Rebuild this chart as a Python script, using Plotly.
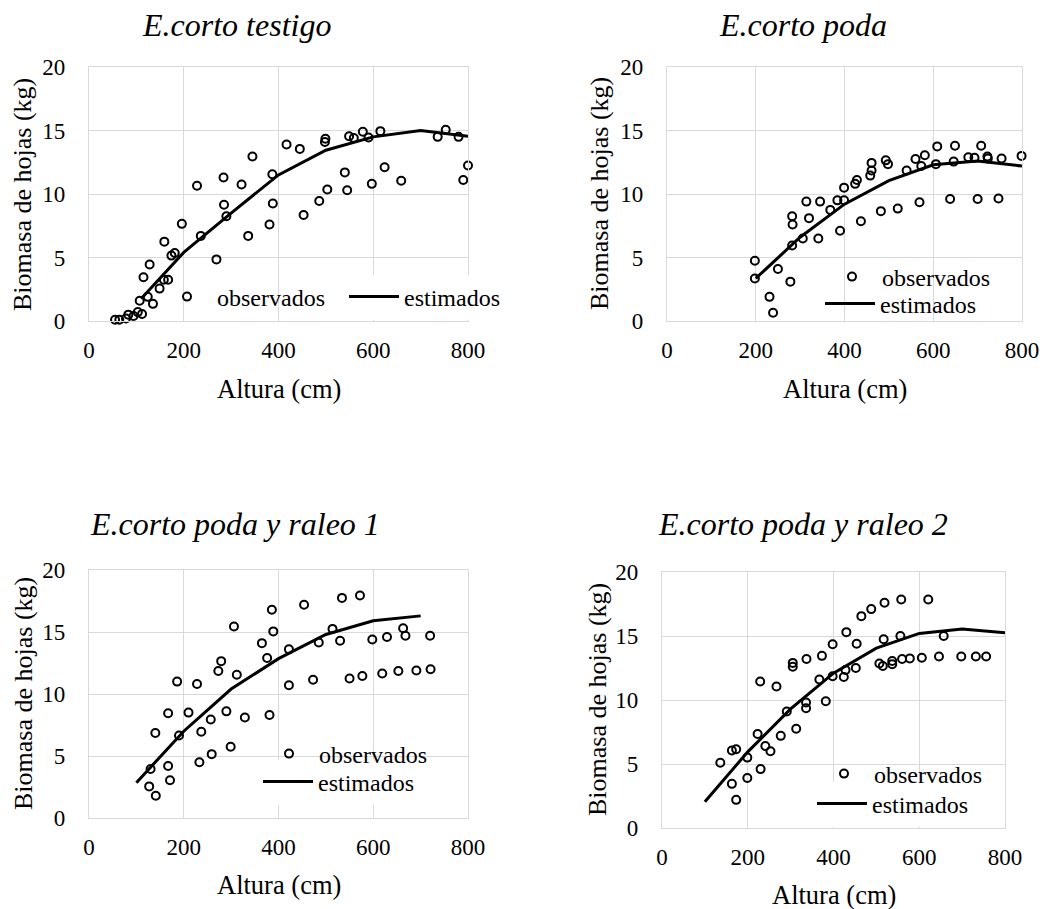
import plotly.graph_objects as go

# ---------------- data ----------------
titles = ["E.corto testigo", "E.corto poda", "E.corto poda y raleo 1", "E.corto poda y raleo 2"]
x_title = "Altura (cm)"
y_title = "Biomasa de hojas (kg)"
series_names = ["observados", "estimados"]

x_ticks = [0, 200, 400, 600, 800]
y_ticks = [0, 5, 10, 15, 20]

obs_x1 = [55, 64, 78, 83, 94, 103, 112, 107, 124, 135, 115, 128, 149, 158, 167, 159, 174, 181, 196, 228,
          236, 269, 284, 285, 290, 322, 336, 345, 381, 387, 388, 417, 445, 453, 486, 498, 499, 503, 540,
          545, 549, 559, 578, 590, 597, 615, 624, 659, 736, 753, 780, 790, 800]
obs_y1 = [0.1, 0.1, 0.2, 0.5, 0.4, 0.7, 0.55, 1.6, 1.9, 1.35, 3.45, 4.45, 2.55, 3.25, 3.25, 6.25, 5.15,
          5.35, 7.65, 10.65, 6.7, 4.85, 11.3, 9.15, 8.25, 10.75, 6.7, 12.95, 7.6, 11.55, 9.25, 13.9, 13.55,
          8.35, 9.45, 14.1, 14.35, 10.35, 11.7, 10.3, 14.55, 14.4, 14.9, 14.45, 10.8, 14.95, 12.1, 11.05,
          14.5, 15.05, 14.5, 11.1, 12.25]
est_x1 = [110, 200, 300, 400, 500, 600, 700, 800]
est_y1 = [1.75, 5.4, 8.5, 11.5, 13.45, 14.5, 15.0, 14.55]

obs_x2 = [198, 198, 231, 239, 250, 278, 282, 283, 282, 306, 314, 320, 341, 345, 368, 384, 390, 399, 399,
          424, 428, 437, 458, 461, 461, 482, 493, 498, 520, 540, 560, 573, 569, 581, 606, 609, 638, 646,
          649, 679, 693, 700, 708, 722, 723, 747, 754, 799]
obs_y2 = [4.75, 3.35, 1.9, 0.65, 4.1, 3.1, 8.25, 7.6, 5.95, 6.5, 9.4, 8.1, 6.5, 9.4, 8.75, 9.5, 7.1, 9.5,
          10.5, 10.8, 11.1, 7.85, 11.45, 11.85, 12.45, 8.65, 12.65, 12.35, 8.85, 11.85, 12.75, 12.2, 9.35,
          13.05, 12.35, 13.75, 9.6, 12.55, 13.8, 12.9, 12.85, 9.6, 13.8, 12.95, 12.8, 9.65, 12.8, 13.0]
est_x2 = [200, 300, 400, 500, 600, 700, 800]
est_y2 = [3.35, 6.6, 9.2, 11.05, 12.3, 12.6, 12.2]

obs_x3 = [127, 141, 130, 140, 167, 171, 167, 186, 190, 210, 228, 233, 237, 257, 259, 273, 279, 290, 299,
          306, 312, 329, 365, 376, 381, 386, 389, 422, 422, 454, 473, 485, 514, 530, 534, 550, 572, 577,
          598, 619, 629, 653, 663, 668, 691, 720, 721]
obs_y3 = [2.55, 1.8, 3.95, 6.85, 4.2, 3.05, 8.45, 11.0, 6.65, 8.5, 10.8, 4.5, 6.95, 7.95, 5.15, 11.85,
          12.65, 8.6, 5.75, 15.45, 11.55, 8.1, 14.1, 12.9, 8.3, 16.8, 15.05, 13.6, 10.7, 17.2, 11.15, 14.15,
          15.25, 14.3, 17.75, 11.25, 17.95, 11.45, 14.4, 11.65, 14.6, 11.85, 15.3, 14.7, 11.9, 14.7, 12.0]
est_x3 = [100, 200, 300, 400, 500, 600, 700]
est_y3 = [2.85, 7.0, 10.4, 12.85, 14.8, 15.9, 16.3]

obs_x4 = [136, 163, 163, 173, 173, 199, 199, 223, 229, 230, 241, 253, 267, 277, 291, 305, 305, 313, 337,
          336, 336, 367, 373, 382, 398, 398, 424, 428, 430, 452, 454, 465, 488, 507, 515, 519, 517, 537,
          537, 556, 558, 560, 578, 606, 621, 646, 657, 698, 732, 756]
obs_y4 = [5.1, 3.45, 6.05, 6.15, 2.2, 5.5, 3.9, 7.35, 11.45, 4.6, 6.4, 6.0, 11.05, 7.2, 9.1, 12.9, 12.6,
          7.75, 13.2, 9.8, 9.35, 11.6, 13.45, 9.9, 14.35, 11.85, 11.8, 12.35, 15.3, 12.5, 14.4, 16.55, 17.1,
          12.85, 12.65, 17.6, 14.75, 12.8, 13.05, 15.0, 17.85, 13.2, 13.25, 13.3, 17.85, 13.4, 15.0, 13.4,
          13.4, 13.4]
est_x4 = [100, 200, 300, 400, 500, 600, 700, 800]
est_y4 = [2.05, 5.95, 9.3, 12.1, 14.05, 15.2, 15.55, 15.25]

obs_x = [obs_x1, obs_x2, obs_x3, obs_x4]
obs_y = [obs_y1, obs_y2, obs_y3, obs_y4]
est_x = [est_x1, est_x2, est_x3, est_x4]
est_y = [est_y1, est_y2, est_y3, est_y4]

# ---------------- layout geometry (pixels of the 1047x909 window) ----------------
WIN_W, WIN_H = 1047, 909
BODY = 8                      # default page margin before the figure
W, H = WIN_W - BODY, WIN_H - BODY
FONT = "Liberation Serif"
plot_px = [  # left, right, top, bottom
    (89, 468, 67, 321),
    (667, 1022, 67, 321),
    (89, 468, 570, 818),
    (662, 1005, 572, 828),
]
title_px = [(236, 25), (803, 25), (235, 524), (803, 524)]
ytitle_px = [(23, 195), (600, 194), (23, 694), (597, 700)]
xtitle_px = [(279, 389), (845, 389), (279, 885), (834, 895)]
# legend box left-x and row-centre y for (observados, estimados)
legend_px = [
    ((157, 297), (344, 297)),
    ((822, 277), (820, 304)),
    ((259, 754), (258, 782)),
    ((814, 774), (812, 804)),
]
CLEAR = "rgba(0,0,0,0)"
legend_bg = [(CLEAR, "white"), (CLEAR, CLEAR), (CLEAR, "white"), (CLEAR, "white")]


def px(x):
    return (x - BODY) / W


def py(y):
    return 1 - (y - BODY) / H


fig = go.Figure()
layout = dict(
    width=W, height=H, margin=dict(l=0, r=0, t=0, b=0, autoexpand=False),
    paper_bgcolor="white", plot_bgcolor="white",
    font=dict(family=FONT, color="black"),
    showlegend=True,
)
annotations = []
for i in range(4):
    n = "" if i == 0 else str(i + 1)
    l, r, t, b = plot_px[i]
    axis_common = dict(
        showgrid=True, gridcolor="#d9d9d9", gridwidth=1.3,
        showline=True, linecolor="#d9d9d9", linewidth=1.3, mirror=True,
        zeroline=False, ticks="", tickfont=dict(size=23, family=FONT, color="black"),
        fixedrange=True, automargin=False,
    )
    layout["xaxis" + n] = dict(axis_common, domain=[px(l), px(r)], range=[0, 800],
                               tickvals=x_ticks, anchor="y" + n, ticklabelstandoff=8)
    layout["yaxis" + n] = dict(axis_common, domain=[py(b), py(t)], range=[0, 20],
                               tickvals=y_ticks, anchor="x" + n, ticklabelstandoff=18)
    lg_est = "legend" if i == 0 else "legend" + str(2 * i + 1)
    lg_obs = "legend" + str(2 * i + 2)
    # estimados first so the observados legend is drawn above it
    fig.add_trace(go.Scatter(
        x=est_x[i], y=est_y[i], mode="lines", name=series_names[1],
        line=dict(color="black", width=3),
        xaxis="x" + n, yaxis="y" + n, legend=lg_est, cliponaxis=False,
    ))
    fig.add_trace(go.Scatter(
        x=obs_x[i], y=obs_y[i], mode="markers", name=series_names[0],
        marker=dict(symbol="circle-open", size=8, color="black", line=dict(width=2, color="black")),
        xaxis="x" + n, yaxis="y" + n, legend=lg_obs, cliponaxis=False,
    ))
    for key, (lx, ly), bg in zip([lg_obs, lg_est], legend_px[i], legend_bg[i]):
        layout[key] = dict(x=px(lx), y=py(ly), xanchor="left", yanchor="middle",
                           bgcolor=bg, borderwidth=0, itemwidth=50,
                           font=dict(size=24, family=FONT, color="black"))
    tx, ty = title_px[i]
    annotations.append(dict(text="<i>" + titles[i] + "</i>", x=px(tx), y=py(ty), xref="paper", yref="paper",
                            xanchor="center", yanchor="middle", showarrow=False,
                            font=dict(size=32, family=FONT, color="black")))
    yx, yy = ytitle_px[i]
    annotations.append(dict(text=y_title, x=px(yx), y=py(yy), xref="paper", yref="paper", textangle=-90,
                            xanchor="center", yanchor="middle", showarrow=False,
                            font=dict(size=26, family=FONT, color="black")))
    xx, xy = xtitle_px[i]
    annotations.append(dict(text=x_title, x=px(xx), y=py(xy), xref="paper", yref="paper",
                            xanchor="center", yanchor="middle", showarrow=False,
                            font=dict(size=26.5, family=FONT, color="black")))

layout["annotations"] = annotations
fig.update_layout(**layout)
fig.write_html("out.html")
